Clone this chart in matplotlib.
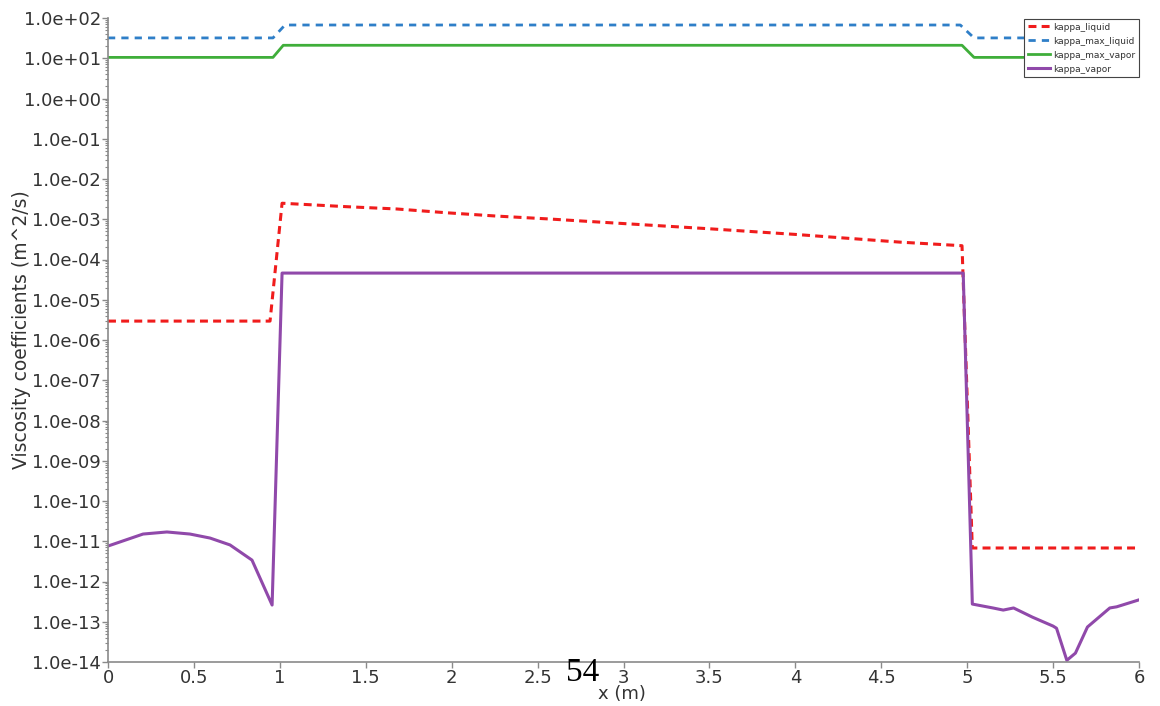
import numpy as np
import matplotlib
matplotlib.use("Agg")
import matplotlib.pyplot as plt
from matplotlib.ticker import LogLocator, FuncFormatter, FixedLocator, NullFormatter

# ---------------- data ----------------
x_liquid = [0.0, 0.943, 1.013, 1.39, 1.68, 1.97, 2.26, 2.56, 2.94, 3.5, 4.0, 4.61, 4.97, 5.03, 6.0]
kappa_liquid = [2.95e-6, 2.95e-6, 2.5e-3, 2.05e-3, 1.8e-3, 1.45e-3, 1.2e-3, 1.02e-3,
                8.1e-4, 5.8e-4, 4.2e-4, 2.7e-4, 2.2e-4, 6.8e-12, 6.8e-12]

x_max_liquid = [0.0, 0.96, 1.03, 4.96, 5.04, 6.0]
kappa_max_liquid = [32.0, 32.0, 67.0, 67.0, 32.0, 32.0]

x_max_vapor = [0.0, 0.96, 1.02, 4.97, 5.04, 6.0]
kappa_max_vapor = [10.5, 10.5, 21.0, 21.0, 10.5, 10.5]

x_vapor = [0.0, 0.204, 0.343, 0.477, 0.594, 0.710, 0.838, 0.955, 1.013, 4.977,
           5.03, 5.15, 5.21, 5.27, 5.38, 5.50, 5.52, 5.58, 5.63, 5.70, 5.83, 5.87, 6.0]
kappa_vapor = [7.6e-12, 1.51e-11, 1.70e-11, 1.51e-11, 1.20e-11, 8.1e-12, 3.4e-12, 2.6e-13,
               4.6e-5, 4.6e-5,
               2.75e-13, 2.2e-13, 1.95e-13, 2.2e-13, 1.3e-13, 7.8e-14, 6.9e-14, 1.1e-14,
               1.66e-14, 7.4e-14, 2.2e-13, 2.35e-13, 3.5e-13]

x_ticks = [0, 0.5, 1, 1.5, 2, 2.5, 3, 3.5, 4, 4.5, 5, 5.5, 6]
x_ticklabels = ["0", "0.5", "1", "1.5", "2", "2.5", "3", "3.5", "4", "4.5", "5", "5.5", "6"]
y_decades = list(range(-14, 3))

series_names = ["kappa_liquid", "kappa_max_liquid", "kappa_max_vapor", "kappa_vapor"]

# ---------------- figure ----------------
plt.rcParams['font.family'] = ['DejaVu Sans']
fig = plt.figure(figsize=(11.6, 7.06), dpi=100)
ax = fig.add_axes([108 / 1160, 1 - 662 / 706, (1139 - 108) / 1160, (662 - 18) / 706])

red = "#f01c1c"
blue = "#2f7fc8"
green = "#3fae3a"
purple = "#9049aa"

ax.plot(x_liquid, kappa_liquid, color=red, lw=2.2, dashes=(2.6, 1.7), label=series_names[0])
ax.plot(x_max_liquid, kappa_max_liquid, color=blue, lw=2.0, dashes=(2.6, 2.2), label=series_names[1])
ax.plot(x_max_vapor, kappa_max_vapor, color=green, lw=2.0, label=series_names[2])
ax.plot(x_vapor, kappa_vapor, color=purple, lw=2.2, label=series_names[3])

ax.set_yscale("log")
ax.set_xlim(0, 6)
ax.set_ylim(1e-14, 1e2)

ax.yaxis.set_major_locator(FixedLocator([10.0 ** d for d in y_decades]))
ax.yaxis.set_major_formatter(FuncFormatter(lambda v, p: "%.1e" % v))
ax.yaxis.set_minor_locator(LogLocator(base=10, subs=np.arange(2, 10), numticks=100))
ax.yaxis.set_minor_formatter(NullFormatter())

ax.set_xticks(x_ticks)
ax.set_xticklabels(x_ticklabels)

for s in ["top", "right"]:
    ax.spines[s].set_visible(False)
for s in ["left", "bottom"]:
    ax.spines[s].set_color("#8a8a8a")
    ax.spines[s].set_linewidth(1.2)

ax.tick_params(axis="both", which="major", direction="out", length=4, width=1,
               color="#8a8a8a", labelsize=13, labelcolor="#333333", pad=1)
ax.tick_params(axis="both", which="minor", direction="out", length=2.5, width=0.8,
               color="#8a8a8a")

fig.text(22 / 1160, 1 - 330 / 706, "Viscosity coefficients (m^2/s)", rotation=90,
         ha="center", va="center", fontsize=13.5, color="#333333")
fig.text(622 / 1160, 1 - 694 / 706, "x (m)", ha="center", va="center",
         fontsize=13, color="#333333")
fig.text(583 / 1160, 1 - 673 / 706, "54", ha="center", va="center",
         fontsize=24, family=["Liberation Serif", "DejaVu Serif"], color="black")

leg = ax.legend(loc="upper right", bbox_to_anchor=(1139 / 1160, 1 - 19 / 706),
                bbox_transform=fig.transFigure, fontsize=6.5, frameon=True,
                fancybox=False, framealpha=1, edgecolor="#444444",
                handlelength=2.4, handletextpad=0.4, borderpad=0.4,
                labelspacing=0.55, borderaxespad=0)
leg.get_frame().set_linewidth(0.8)
for t in leg.get_texts():
    t.set_color("#333333")

fig.savefig("out.png", dpi=100)
